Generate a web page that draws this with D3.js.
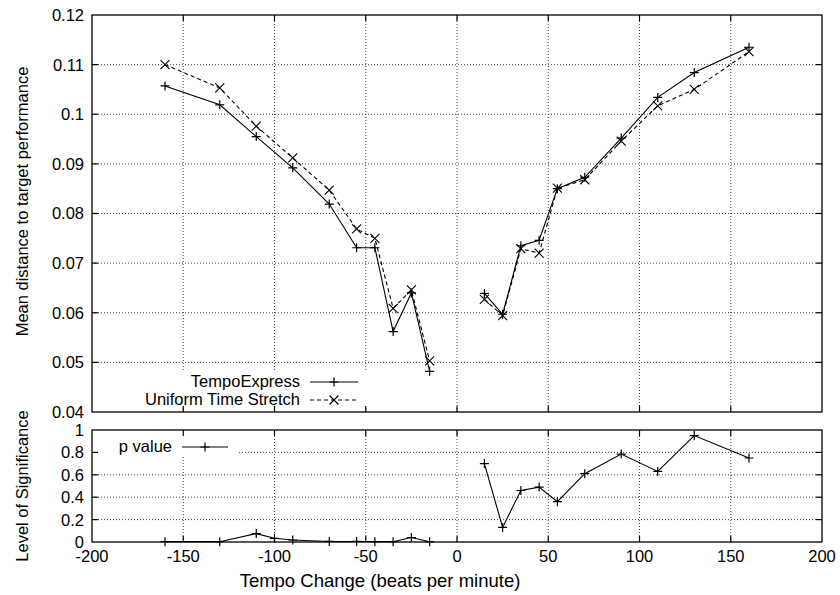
<!DOCTYPE html>
<html lang="en">
<head>
  <meta charset="UTF-8" />
  <title>Tempo Change vs Distance</title>
  <style>
    body { margin: 0; background: #fff; }
    text {
      font-family: 'Liberation Sans', Arial, sans-serif;
      font-size: 16.5px;
      fill: #000;
    }
    .grid { stroke: #444; stroke-width: 1; stroke-dasharray: 1,2; }
    .frame { fill: none; stroke: #000; stroke-width: 1.3; }
    .tick { stroke: #000; stroke-width: 1.2; }
  </style>
  <script src="https://d3js.org/d3.v7.min.js"></script>
</head>
<body>
  <svg id="chart" width="840" height="595"></svg>

  <script>
    // tempo changes (bpm) for the distance plot
    const tempo = [-160, -130, -110, -90, -70, -55, -45, -35, -25, -15,
                   15, 25, 35, 45, 55, 70, 90, 110, 130, 160];
    const tempoExpress = [0.1057, 0.1019, 0.0955, 0.0892, 0.0819, 0.0731, 0.0731, 0.0562, 0.0640, 0.0482,
                          0.0639, 0.0597, 0.0735, 0.0746, 0.0850, 0.0873, 0.0952, 0.1034, 0.1084, 0.1135];
    const uniformStretch = [0.1100, 0.1053, 0.0976, 0.0912, 0.0847, 0.0769, 0.0750, 0.0609, 0.0646, 0.0503,
                            0.0627, 0.0594, 0.0729, 0.0720, 0.0851, 0.0868, 0.0946, 0.1017, 0.1050, 0.1126];

    // significance plot
    const pTempo = [-160, -130, -110, -100, -90, -70, -55, -45, -35, -25, -15,
                    15, 25, 35, 45, 55, 70, 90, 110, 130, 160];
    const pValue = [0.003, 0.003, 0.075, 0.033, 0.018, 0.005, 0.005, 0.003, 0.003, 0.04, 0.003,
                    0.70, 0.13, 0.46, 0.49, 0.36, 0.61, 0.785, 0.63, 0.95, 0.75];

    const xTicks = [-200, -150, -100, -50, 0, 50, 100, 150, 200];
    const yTopTicks = [0.04, 0.05, 0.06, 0.07, 0.08, 0.09, 0.1, 0.11, 0.12];
    const yBotTicks = [0, 0.2, 0.4, 0.6, 0.8, 1];

    const svg = d3.select('#chart');
    const left = 92, right = 822;
    const top1 = 15, bot1 = 412;
    const top2 = 430, bot2 = 542;
    const tickLen = 6;

    const x = d3.scaleLinear().domain([-200, 200]).range([left, right]);
    const y1 = d3.scaleLinear().domain([0.04, 0.12]).range([bot1, top1]);
    const y2 = d3.scaleLinear().domain([0, 1]).range([bot2, top2]);

    function drawPanel(y, yTicks, top, bot, fmt) {
      const g = svg.append('g');
      // grid
      xTicks.slice(1, -1).forEach(t => {
        g.append('line').attr('class', 'grid')
          .attr('x1', x(t)).attr('x2', x(t)).attr('y1', top).attr('y2', bot);
      });
      yTicks.slice(1, -1).forEach(t => {
        g.append('line').attr('class', 'grid')
          .attr('x1', left).attr('x2', right).attr('y1', y(t)).attr('y2', y(t));
      });
      // y tick labels
      yTicks.forEach(t => {
        g.append('text').attr('x', left - 8).attr('y', y(t))
          .attr('text-anchor', 'end').attr('dy', '0.36em').text(fmt(t));
      });
      return g;
    }

    function drawFrame(y, yTicks, top, bot) {
      const g = svg.append('g');
      g.append('rect').attr('class', 'frame')
        .attr('x', left).attr('y', top).attr('width', right - left).attr('height', bot - top);
      xTicks.slice(1, -1).forEach(t => {
        g.append('line').attr('class', 'tick')
          .attr('x1', x(t)).attr('x2', x(t)).attr('y1', bot).attr('y2', bot - tickLen);
        g.append('line').attr('class', 'tick')
          .attr('x1', x(t)).attr('x2', x(t)).attr('y1', top).attr('y2', top + tickLen);
      });
      yTicks.slice(1, -1).forEach(t => {
        g.append('line').attr('class', 'tick')
          .attr('x1', left).attr('x2', left + tickLen).attr('y1', y(t)).attr('y2', y(t));
        g.append('line').attr('class', 'tick')
          .attr('x1', right).attr('x2', right - tickLen).attr('y1', y(t)).attr('y2', y(t));
      });
    }

    function plus(g, cx, cy) {
      const s = 4.5;
      g.append('path')
        .attr('d', `M${cx - s},${cy}H${cx + s}M${cx},${cy - s}V${cy + s}`)
        .attr('stroke', '#000').attr('stroke-width', 1.2).attr('fill', 'none');
    }
    function cross(g, cx, cy) {
      const s = 4.5;
      g.append('path')
        .attr('d', `M${cx - s},${cy - s}L${cx + s},${cy + s}M${cx - s},${cy + s}L${cx + s},${cy - s}`)
        .attr('stroke', '#000').attr('stroke-width', 1.1).attr('fill', 'none');
    }

    function drawSeries(g, xs, ys, y, dash, marker) {
      const pts = xs.map((t, i) => [t, ys[i]]);
      const line = d3.line().x(d => x(d[0])).y(d => y(d[1]));
      [pts.filter(d => d[0] < 0), pts.filter(d => d[0] > 0)].forEach(seg => {
        g.append('path').attr('d', line(seg))
          .attr('fill', 'none').attr('stroke', '#000').attr('stroke-width', 1.1)
          .attr('stroke-dasharray', dash);
      });
      pts.forEach(d => marker(g, x(d[0]), y(d[1])));
    }

    // ---- top panel ----
    drawPanel(y1, yTopTicks, top1, bot1, d => d3.format('')(+d.toFixed(2)));
    const g1 = svg.append('g');
    // legend background
    g1.append('rect').attr('x', 128).attr('y', 370).attr('width', 240).attr('height', 38).attr('fill', '#fff');
    drawSeries(g1, tempo, tempoExpress, y1, null, plus);
    drawSeries(g1, tempo, uniformStretch, y1, '4,3', cross);
    drawFrame(y1, yTopTicks, top1, bot1);

    // top legend
    const lg1 = svg.append('g');
    lg1.append('text').attr('x', 300).attr('y', 381).attr('dy', '0.36em')
      .attr('text-anchor', 'end').text('TempoExpress');
    lg1.append('line').attr('x1', 310).attr('x2', 358).attr('y1', 382).attr('y2', 382)
      .attr('stroke', '#000').attr('stroke-width', 1.1);
    plus(lg1, 334, 382);
    lg1.append('text').attr('x', 300).attr('y', 399).attr('dy', '0.36em')
      .attr('text-anchor', 'end').text('Uniform Time Stretch');
    lg1.append('line').attr('x1', 310).attr('x2', 358).attr('y1', 400).attr('y2', 400)
      .attr('stroke', '#000').attr('stroke-width', 1.1).attr('stroke-dasharray', '4,3');
    cross(lg1, 334, 400);

    // ---- bottom panel ----
    drawPanel(y2, yBotTicks, top2, bot2, d => d3.format('')(+d.toFixed(1)));
    const g2 = svg.append('g');
    g2.append('rect').attr('x', 94).attr('y', 431).attr('width', 143).attr('height', 24).attr('fill', '#fff');
    drawSeries(g2, pTempo, pValue, y2, null, plus);
    drawFrame(y2, yBotTicks, top2, bot2);

    const lg2 = svg.append('g');
    lg2.append('text').attr('x', 172).attr('y', 446).attr('dy', '0.36em')
      .attr('text-anchor', 'end').text('p value');
    lg2.append('line').attr('x1', 182).attr('x2', 228).attr('y1', 447).attr('y2', 447)
      .attr('stroke', '#000').attr('stroke-width', 1.1);
    plus(lg2, 205, 447);

    // x tick labels
    xTicks.forEach(t => {
      svg.append('text').attr('x', x(t)).attr('y', 556).attr('dy', '0.36em')
        .attr('text-anchor', 'middle').text(t);
    });

    // axis titles
    svg.append('text').attr('x', 380).attr('y', 580).attr('dy', '0.36em')
      .attr('text-anchor', 'middle').style('font-size', '18.5px')
      .text('Tempo Change (beats per minute)');
    svg.append('text').attr('transform', `translate(22,${(top1 + bot1) / 2 - 12}) rotate(-90)`)
      .attr('dy', '0.36em').attr('text-anchor', 'middle').text('Mean distance to target performance');
    svg.append('text').attr('transform', `translate(22,${(top2 + bot2) / 2}) rotate(-90)`)
      .attr('dy', '0.36em').attr('text-anchor', 'middle').text('Level of Significance');
  </script>
</body>
</html>
